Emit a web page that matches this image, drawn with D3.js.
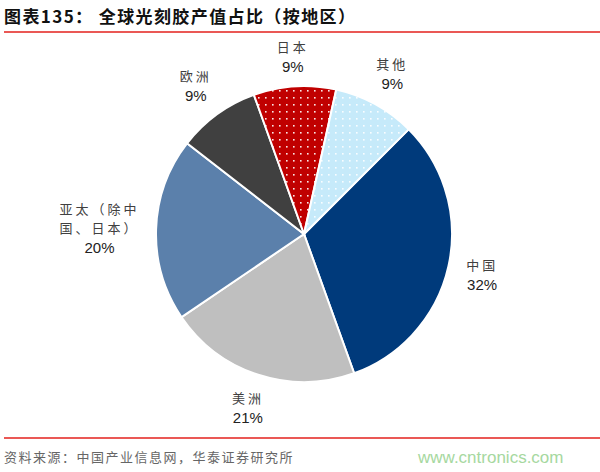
<!DOCTYPE html>
<html>
<head>
<meta charset="utf-8">
<script src="https://cdn.jsdelivr.net/npm/d3@7"></script>
<style>
  body { margin: 0; background: #fff; }
  svg { display: block; }
</style>
</head>
<body>
<div id="chart"></div>
<script>
// 各地区光刻胶产值占比（%）
const regions = ["中国", "美洲", "亚太（除中国、日本）", "欧洲", "日本", "其他"];
const shares = [32, 21, 20, 9, 9, 9];
const labelLines = [["中国"], ["美洲"], ["亚太（除中", "国、日本）"], ["欧洲"], ["日本"], ["其他"]];
const pctLabels = ["32%", "21%", "20%", "9%", "9%", "9%"];

const width = 600, height = 472;
const cx = 304, cy = 234, radius = 148;
const startDeg = 45;

const colors = ["#003A7B", "#BFBFBF", "#5B80AB", "#404040", "#C00000", "#C6EAFA"];
const dotted = [false, false, false, false, true, true];

const svg = d3.select("#chart").append("svg")
    .attr("width", width)
    .attr("height", height);

// white dot patterns for 日本 / 其他
const defs = svg.append("defs");
colors.forEach((c, i) => {
    if (!dotted[i]) return;
    let p = defs.append("pattern")
        .attr("id", "dots" + i)
        .attr("patternUnits", "userSpaceOnUse")
        .attr("width", 7).attr("height", 7);
    p.append("rect").attr("width", 7).attr("height", 7).attr("fill", c);
    p.append("rect").attr("x", 3).attr("y", 3).attr("width", 1.6).attr("height", 1.6)
        .attr("fill", "#fff").attr("opacity", 0.9);
});

// title
svg.append("text")
    .attr("x", 4).attr("y", 23)
    .attr("font-family", "'Noto Sans CJK SC', sans-serif")
    .attr("font-size", 17).attr("font-weight", "bold")
    .attr("letter-spacing", 1.4)
    .attr("fill", "#111")
    .text("图表135：  全球光刻胶产值占比（按地区）");

svg.append("line")
    .attr("x1", 4).attr("x2", 600).attr("y1", 32).attr("y2", 32)
    .attr("stroke", "#E3211C").attr("stroke-width", 1.6);

// pie
const pie = d3.pie()
    .value(d => d)
    .sort(null)
    .startAngle(startDeg * Math.PI / 180)
    .endAngle((startDeg + 360) * Math.PI / 180);

const arc = d3.arc().innerRadius(0).outerRadius(radius);
const arcs = pie(shares);

const g = svg.append("g").attr("transform", `translate(${cx},${cy})`);

g.selectAll("path")
    .data(arcs)
    .join("path")
    .attr("d", arc)
    .attr("fill", (d, i) => dotted[i] ? `url(#dots${i})` : colors[i])
    .attr("stroke", "#fff")
    .attr("stroke-width", 2);

// labels
const lab = g.selectAll("g.lab")
    .data(arcs)
    .join("g")
    .attr("class", "lab");

lab.each(function(d, i) {
    let el = d3.select(this);
    let lines = labelLines[i];
    let lh = 19;
    lines.forEach((t, k) => {
        el.append("text")
            .attr("y", k * lh)
            .attr("text-anchor", "middle")
            .attr("font-family", "'Noto Sans CJK SC', sans-serif")
            .attr("font-size", 13)
            .attr("letter-spacing", 3)
            .attr("fill", "#404040")
            .text(t);
    });
    el.append("text")
        .attr("y", lines.length * lh + 1)
        .attr("text-anchor", "middle")
        .attr("font-family", "Arial, 'Liberation Sans', sans-serif")
        .attr("font-size", 15)
        .attr("fill", "#222")
        .text(pctLabels[i]);

    let box = this.getBBox();
    let mid = (d.startAngle + d.endAngle) / 2;
    let s = Math.abs(Math.sin(mid)), c = Math.abs(Math.cos(mid));
    let r = 164 + s * box.width / 2 + c * box.height / 2 * 0.7;
    let x = Math.sin(mid) * r, y = -Math.cos(mid) * r;
    el.attr("transform", `translate(${x - (box.x + box.width / 2)},${y - (box.y + box.height / 2)})`);
});

// footer
svg.append("line")
    .attr("x1", 4).attr("x2", 600).attr("y1", 438).attr("y2", 438)
    .attr("stroke", "#E3211C").attr("stroke-width", 1.6);

svg.append("text")
    .attr("x", 4).attr("y", 462)
    .attr("font-family", "'Noto Sans CJK SC', sans-serif")
    .attr("font-size", 13)
    .attr("letter-spacing", 1.5)
    .attr("fill", "#666")
    .text("资料来源：中国产业信息网，华泰证券研究所");

svg.append("text")
    .attr("x", 418).attr("y", 463)
    .attr("font-family", "Arial, 'Liberation Sans', sans-serif")
    .attr("font-size", 17)
    .attr("fill", "#A6D8A0")
    .text("www.cntronics.com");
</script>
</body>
</html>
